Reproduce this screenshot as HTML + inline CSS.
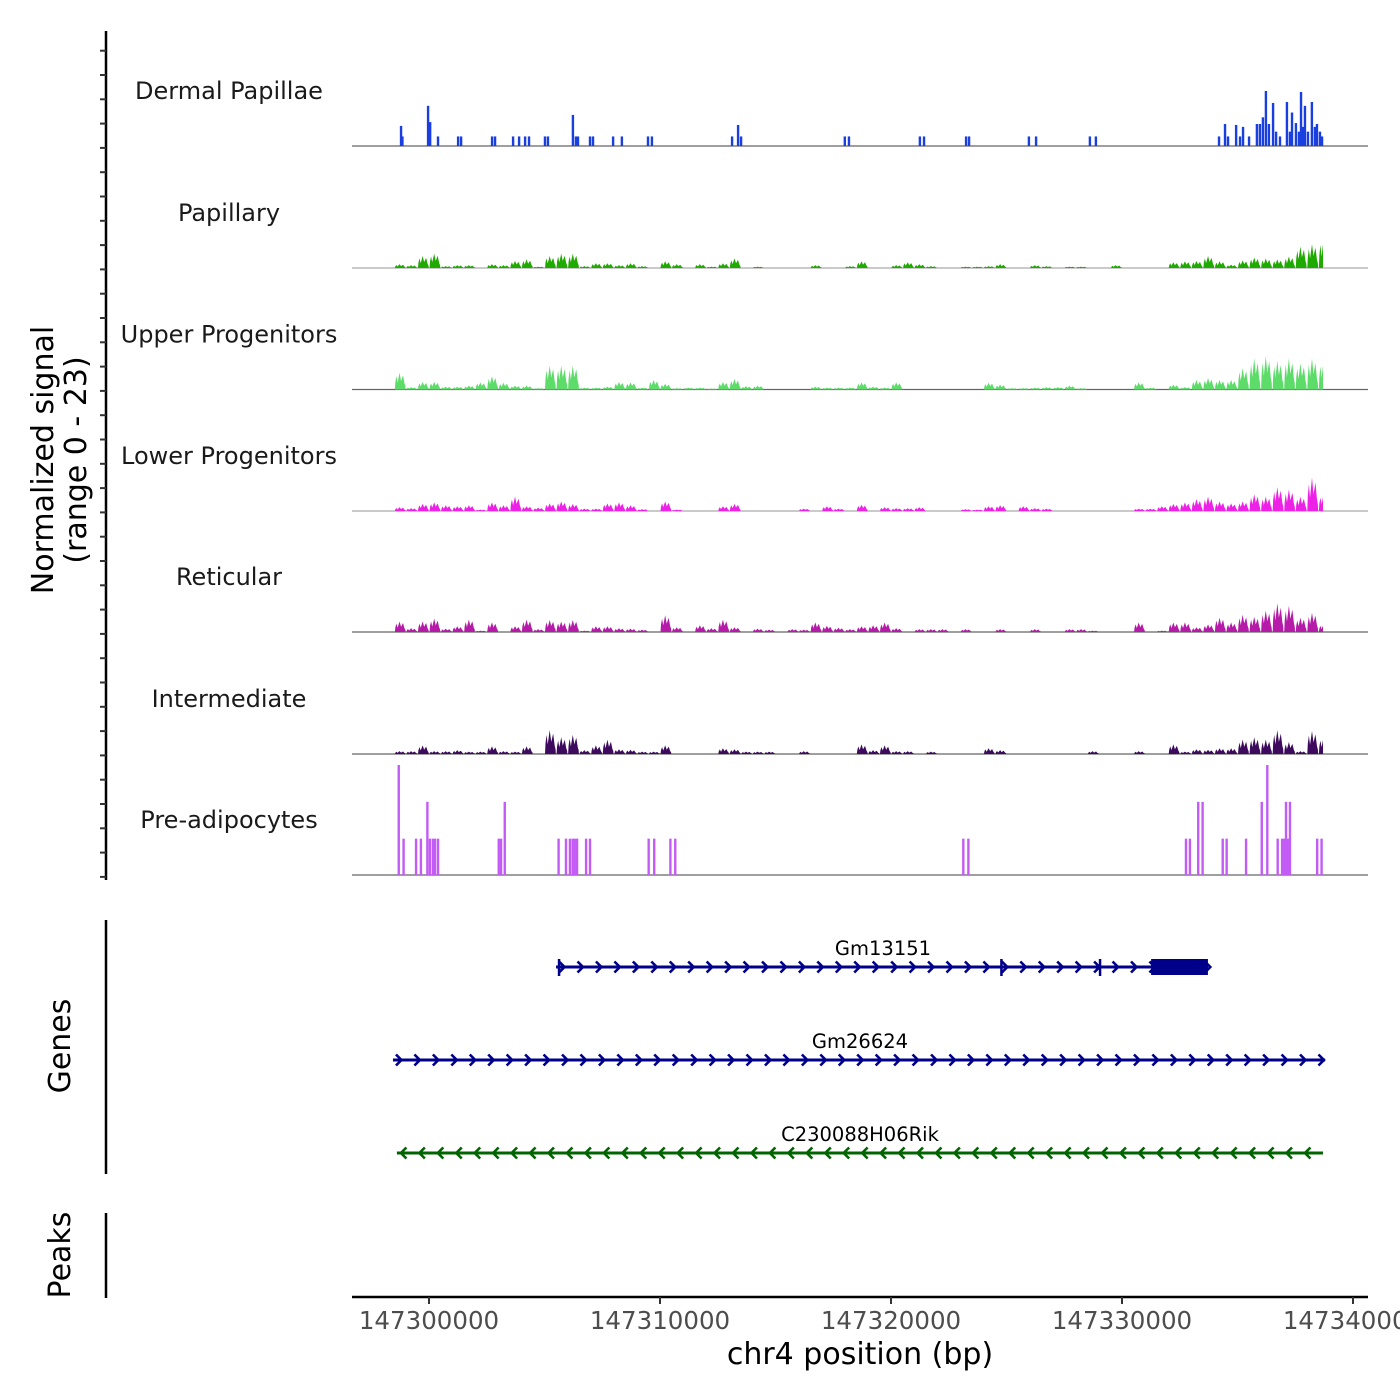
<!DOCTYPE html>
<html><head><meta charset="utf-8">
<style>
html,body{margin:0;padding:0;background:#fff;}
svg{display:block;font-family:"DejaVu Sans","Liberation Sans",sans-serif;}
</style></head>
<body>
<svg id="chart" width="1400" height="1400" viewBox="0 0 1400 1400" xmlns="http://www.w3.org/2000/svg">
  <rect width="1400" height="1400" fill="#fff"/>
  <defs><clipPath id="cl"><rect x="352" y="0" width="971" height="900"/></clipPath></defs>
  <g id="tracks"></g>
  <g id="genes"></g>
  <g id="axes">
    <text transform="translate(53,460) rotate(-90)" text-anchor="middle" font-size="30" fill="#000">Normalized signal</text>
    <text transform="translate(86,460) rotate(-90)" text-anchor="middle" font-size="30" fill="#000">(range 0 - 23)</text>
    <text transform="translate(70,1046) rotate(-90)" text-anchor="middle" font-size="30" fill="#000">Genes</text>
    <text transform="translate(70,1255) rotate(-90)" text-anchor="middle" font-size="30" fill="#000">Peaks</text>
    <line x1="106" y1="920" x2="106" y2="1174" stroke="#000" stroke-width="2.5"/>
    <line x1="106" y1="1213" x2="106" y2="1298" stroke="#000" stroke-width="2.5"/>
    <line x1="352" y1="1297" x2="1368" y2="1297" stroke="#000" stroke-width="2.5"/>
    <text x="860" y="1364" text-anchor="middle" font-size="30" fill="#000">chr4 position (bp)</text>
  </g>
</svg>
<script>
// ---- data ----
const trackNames = ["Dermal Papillae","Papillary","Upper Progenitors","Lower Progenitors","Reticular","Intermediate","Pre-adipocytes"];
const trackColors = ["#1a3fe0","#1faa00","#5ddc6a","#ee22e6","#b51aa8","#3d0a5e","#c35cf5"];
const dpPos = [147298790,147298850,147299960,147300050,147300390,147301260,147301390,147302730,147302860,147303640,147303900,147304160,147304330,147305020,147305150,147306230,147306360,147306450,147306970,147307100,147307970,147308350,147309480,147309650,147313120,147313380,147313510,147318000,147318180,147321250,147321430,147323250,147323380,147325970,147326280,147328610,147328870,
147334200,147334460,147334590,147334940,147335110,147335240,147335500,147335840,147335970,147336100,147336230,147336360,147336540,147336670,147336840,147337140,147337270,147337360,147337530,147337660,147337750,147337840,147337920,147338050,147338220,147338350,147338440,147338570,147338660];
const dpVal = [4.2,2,8.4,5,2,2,2,2,2,2,2,2,2,2,2,6.5,2,2,2,2,2,2,2,2,2,4.4,2,2,2,2,2,2,2,2,2,2,2,
2,4.6,2,4.4,2,4,2,4.6,4.6,6,11.5,4.6,9,3,2,9.2,3,7,4.8,3,11.3,4,8.4,3,9.2,4,4.6,3,2];
const binStart = 147298500;
const binSize = 500;
const papillary = [0.8,0.6,2.5,3,0.4,0.6,0.6,0,0.8,0.6,1.5,1.8,0.3,2.5,3,3,0.4,1,1,0.6,1,0.4,0,1.4,0.8,0,0.8,0.3,1,2,0,0.3,0,0,0,0,0.6,0,0,0.4,
1.4,0,0,0.6,1.2,0.8,0.4,0,0,0.3,0.3,0.4,0.8,0,0,0.6,0.4,0,0.3,0.3,0,0,0.6,0,0,0,0,1.2,1.4,1.5,2.5,1.4,0.7,1.6,2.2,2,1.8,2.4,4.5,5,6];
const upperProg = [3.5,0.5,1.6,1.6,0.6,0.6,0.8,1.5,2.8,1.4,0.8,0.8,0.3,5,5,5,0.4,0.4,0.6,1.6,1.5,0.4,2,1.2,0.3,0.4,0.4,0.2,1.6,2.2,0.7,0.8,0,0,0,0,0.6,0.4,0.4,0.4,
1.5,0.6,0.4,1.5,0,0,0,0,0,0,0,1.4,1,0.3,0.3,0.4,0.5,0.5,0.8,0.3,0,0,0,0,1.5,0.4,0,1,0.5,2,2.4,2,2,4.5,6.5,7,6,6.5,5.5,6.5,6];
const lowerProg = [0.8,0.6,1.5,1.8,1.2,1,1.2,0.3,1.8,1.2,3,1,0.7,1.6,2,1.5,0.5,0.5,1.6,1.8,1.2,0.4,0,2,0.3,0,0,0,1,1.5,0,0,0,0,0,0.5,0,1,0.5,0,
1.3,0,0.8,0.6,0.6,0.8,0,0,0,0.4,0.3,1,1.2,0,1,0.6,0.5,0,0,0,0,0,0,0,0.5,0.5,1,1.5,1.8,2.5,3,2,1.6,2,3.5,3,5,4.5,3,7,3.5];
const reticular = [2.2,0.8,2.2,2.8,0.7,1.2,2.6,0.3,2,0,1.2,2.6,0.6,2.5,2.2,2.5,0.3,1.2,1.2,0.8,0.7,0.5,0,3.5,1,0,1.4,0.8,2.6,1,0,0.7,0.5,0,0.6,0.5,2,1.3,0.9,0.6,
1.2,1.4,2,0.8,0,0.6,0.6,0.6,0,0.6,0,0,0.6,0,0,0.6,0,0,0.6,0.6,0.3,0,0,0,2,0,0.3,2,2,1,1.6,3,2,3.6,3.2,4.5,6,5.5,3,4,1.6];
const intermediate = [0.6,0.6,1.8,0.6,0.6,0.8,0.5,0.5,1.6,0.6,0.5,1.6,0,5,3.5,4,0.8,1.8,3,1,0.9,0.5,0.5,1.8,0,0,0,0,1.2,1,0.5,0.5,0.5,0,0,0.6,0,0,0,0,
2,0.8,1.8,0.6,0.6,0,0.5,0,0,0,0,1.2,0.8,0,0,0,0,0,0,0,0.6,0,0,0,0.6,0,0,2,0.5,1,0.9,1.2,1.2,3,3.5,3,5,2.5,0.6,4.8,3.5];
const paPos = [147298690,147298900,147299440,147299650,147299930,147300040,147300170,147300260,147300390,147303020,147303120,147303280,147305610,147305930,147306100,147306220,147306310,147306410,147306800,147306970,147309510,147309750,147310450,147310660,147323130,147323350,147332770,147332940,147333300,147333490,147334360,147334530,147335370,147336050,147336290,147336740,147336930,147337010,147337100,147337190,147337270,147338450,147338640];
const paVal = [23,7.6,7.6,7.6,15.3,7.6,7.6,7.6,7.6,7.6,7.6,15.3,7.6,7.6,7.6,7.6,7.6,7.6,7.6,7.6,7.6,7.6,7.6,7.6,7.6,7.6,7.6,7.6,15.3,15.3,7.6,7.6,7.6,15.3,23,7.6,7.6,7.6,15.3,7.6,15.3,7.6,7.6];
const geneNames = ["Gm13151","Gm26624","C230088H06Rik"];
const geneStart = [147305500,147298440,147298610];
const geneEnd = [147333720,147338790,147338700];
const geneStrand = [1,1,-1];
const geneColors = ["#00008b","#00008b","#006400"];
const exonStart = [147331260];
const exonEnd = [147333720];
const intronMarks = [147305630,147324780,147329050];
const xTicks = [147300000,147310000,147320000,147330000,147340000];
const yMax = 23;

// ---- scales ----
const X0 = 147300000, PX0 = 429, PXPERBP = 23.1/1000;
function xs(bp){ return PX0 + (bp - X0)*PXPERBP; }
const baselines = [146,268,389.5,511,632,754,875];
const trackH = 110;
function ys(v, t){ return baselines[t] - v/yMax*trackH; }

const NS = "http://www.w3.org/2000/svg";
function mk(tag, attrs, parent){
  const e = document.createElementNS(NS, tag);
  for (const k in attrs) e.setAttribute(k, attrs[k]);
  parent.appendChild(e);
  return e;
}
const tracks = document.getElementById('tracks');
const binned = [null, papillary, upperProg, lowerProg, reticular, intermediate, null];

for (let t = 0; t < trackNames.length; t++){
  const g = mk('g', {}, tracks);
  
  
  const lab = mk('text', {x:229, y:baselines[t]-47, 'text-anchor':'middle', 'font-size':24, fill:'#1a1a1a'}, g);
  lab.textContent = trackNames[t];
  
  
  const base = mk('line', {x1:352, x2:1368, y1:baselines[t], y2:baselines[t], stroke: (t===1||t===3)?'#aaa':'#666', 'stroke-width':1.2}, g);
  
  
  const col = trackColors[t];
  if (binned[t]){
    const arr = binned[t];
    let d = '';
    for (let i = 0; i < arr.length; i++){
      const v = arr[i];
      if (v <= 0) continue;
      const a = xs(binStart + i*binSize), b = xs(binStart + (i+1)*binSize);
      const w = b - a, yb = baselines[t];
      d += `M${a+0.5},${yb}L${a+1},${ys(v*0.45,t)}L${a+w*0.18},${ys(v*0.8,t)}L${a+w*0.28},${ys(v*0.4,t)}L${a+w*0.45},${ys(v,t)}L${a+w*0.58},${ys(v*0.5,t)}L${a+w*0.75},${ys(v*0.85,t)}L${a+w*0.88},${ys(v*0.35,t)}L${b-0.5},${ys(v*0.2,t)}L${b-0.2},${yb}Z`;
    }
    const p = mk('path', {d:d, fill:col, 'clip-path':'url(#cl)'}, g);
    
    
  } else {
    const pos = t===0 ? dpPos : paPos, val = t===0 ? dpVal : paVal;
    for (let i = 0; i < pos.length; i++){
      const x = xs(pos[i]);
      const r = mk('rect', {x:x-1.2, y:ys(val[i],t), width:2.4, height:baselines[t]-ys(val[i],t), fill:col}, g);
      
      
    }
  }
}

const axes = document.getElementById('axes');
const yl = mk('line', {x1:106, x2:106, y1:31, y2:880, stroke:'#000', 'stroke-width':2.5}, axes);


for (let k = 0; k < 35; k++){
  const y = 50.7 + k*24.3;
  const tk = mk('line', {x1:100, x2:106, y1:y, y2:y, stroke:'#333', 'stroke-width':2}, axes);
  
  
}
for (const v of xTicks){
  const x = xs(v);
  const tk = mk('line', {x1:x, x2:x, y1:1297, y2:1304, stroke:'#333', 'stroke-width':2}, axes);
  
  
  const tl = mk('text', {x:x, y:1329, 'text-anchor':'middle', 'font-size':24.5, fill:'#4d4d4d'}, axes);
  tl.textContent = String(v);
  
  
}

const genes = document.getElementById('genes');
const geneY = [967,1060,1153];
for (let i = 0; i < geneNames.length; i++){
  const g = mk('g', {}, genes);
  
  
  const x1 = xs(geneStart[i]), x2 = xs(geneEnd[i]), y = geneY[i], c = geneColors[i];
  const ln = mk('line', {x1:x1, x2:x2, y1:y, y2:y, stroke:c, 'stroke-width':3}, g);
  
  
  let d = '';
  const step = 18.45;
  for (let x = x1 + (geneStrand[i]>0?3:4); x < x2 - 2; x += step){
    if (geneStrand[i] > 0) d += `M${x},${y-5.5}L${x+5.5},${y}L${x},${y+5.5}`;
    else d += `M${x+5.5},${y-5.5}L${x},${y}L${x+5.5},${y+5.5}`;
  }
  const ar = mk('path', {d:d, stroke:c, 'stroke-width':2.6, fill:'none'}, g);
  
  
  const lb = mk('text', {x:(i===0? 883 : 860), y:y-12, 'text-anchor':'middle', 'font-size':19.5, fill:'#000'}, g);
  lb.textContent = geneNames[i];
  
  
  if (i === 0){
    for (let e = 0; e < exonStart.length; e++){
      const ex = mk('rect', {x:xs(exonStart[e]), y:y-8, width:xs(exonEnd[e])-xs(exonStart[e]), height:16, fill:c}, g);
      
      
    }
    for (const m of intronMarks){
      const mm = mk('line', {x1:xs(m), x2:xs(m), y1:y-8, y2:y+9, stroke:c, 'stroke-width':2.5}, g);
      
      
    }
  }
}
</script>
</body></html>
